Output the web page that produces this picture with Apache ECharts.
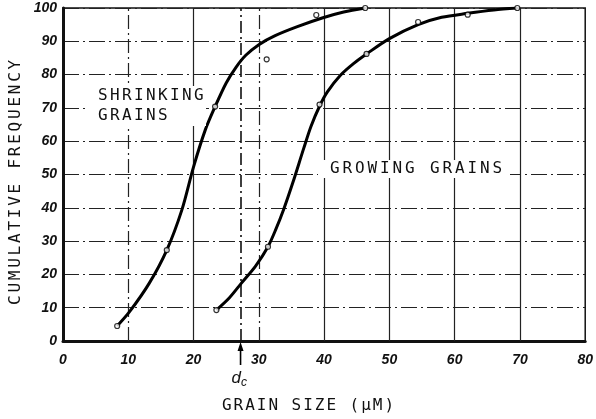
<!DOCTYPE html>
<html>
<head>
<meta charset="utf-8">
<script src="https://cdn.jsdelivr.net/npm/echarts@6/dist/echarts.min.js"></script>
<style>
  html, body { margin: 0; padding: 0; background: #fff; }
  #chart { width: 596px; height: 419px; }
</style>
</head>
<body>
<div id="chart"></div>
<script>
  // measured points (open circles)
  let shrinkX = [8.3, 15.9, 23.3, 31.2, 38.8, 46.3]
  let shrinkY = [4.5, 27.3, 70.4, 84.6, 97.9, 100]
  let growX = [23.5, 31.4, 39.3, 46.5, 54.4, 62, 69.6]
  let growY = [9.3, 28.3, 71, 86.2, 95.8, 98, 100]

  // hand drawn curves
  let shrinkCurveX = [8.3, 10.2, 13.2, 15.9, 18.2, 20, 21.8, 23.3, 25, 26.5, 28, 30, 32.5, 35.9, 39.7, 43, 46.3]
  let shrinkCurveY = [4.5, 8.8, 17.3, 27.3, 39.3, 52.3, 63.4, 70.4, 77.5, 82.2, 85.8, 89, 91.7, 94.4, 97, 98.8, 100]
  let growCurveX = [23.5, 25.5, 27.3, 29.5, 31.4, 32.6, 33.8, 35.2, 36.9, 38, 39.3, 40.5, 42.5, 44.5, 46.5, 50, 54.4, 58, 62, 66, 69.6]
  let growCurveY = [9.3, 13, 17.3, 22.5, 28.3, 33.5, 39.5, 47.5, 58, 64.5, 70.5, 74.8, 79.8, 83.3, 86.2, 90.8, 95, 97.2, 98.4, 99.4, 100]

  let xTicks = [0, 80, 10]
  let yTicks = [0, 100, 10]
  let solidX = [20, 40, 50, 60, 70]
  let dashedX = [10, 30]
  let dc = 27.2

  let zip = (xs, ys) => xs.map((x, i) => [x, ys[i]])

  let myChart = echarts.init(document.getElementById('chart'))

  let mono = 'DejaVu Sans Mono'
  let lettered = function (text, x, y, pitch, size, rotate) {
    let kids = []
    for (let i = 0; i < text.length; i++) {
      kids.push({
        type: 'text',
        x: i * pitch,
        y: 0,
        z: 100,
        style: {
          text: text[i],
          fontFamily: mono,
          fontSize: size,
          fill: '#111',
          align: 'left',
          verticalAlign: 'middle'
        }
      })
    }
    return { type: 'group', x: x, y: y, rotation: rotate || 0, children: kids }
  }

  let tickFont = {
    fontFamily: 'Liberation Sans',
    fontStyle: 'italic',
    fontWeight: 'bold',
    fontSize: 14,
    color: '#111'
  }

  let option = {
    animation: false,
    grid: {
      left: 63, right: 5, top: 8, bottom: 78,
      show: true, borderColor: '#111', borderWidth: 1.5
    },
    xAxis: {
      type: 'value',
      min: xTicks[0], max: xTicks[1], interval: xTicks[2],
      axisLine: { show: true, lineStyle: { color: '#111', width: 3 } },
      axisTick: { show: false },
      splitLine: { show: false },
      axisLabel: Object.assign({ margin: 12 }, tickFont)
    },
    yAxis: {
      type: 'value',
      min: yTicks[0], max: yTicks[1], interval: yTicks[2],
      axisLine: { show: true, lineStyle: { color: '#111', width: 3 } },
      axisTick: { show: false },
      splitLine: { show: true, lineStyle: { color: '#222', width: 1, type: [16, 4, 2, 4] } },
      axisLabel: Object.assign({ margin: 6 }, tickFont)
    },
    series: [
      {
        type: 'line',
        data: zip(shrinkCurveX, shrinkCurveY),
        smooth: 0.3,
        symbol: 'none',
        lineStyle: { color: '#000', width: 3 },
        markLine: {
          silent: true,
          symbol: 'none',
          label: { show: false },
          data: solidX.map(v => ({ xAxis: v, lineStyle: { color: '#222', width: 1.2, type: 'solid' } }))
            .concat(dashedX.map(v => ({ xAxis: v, lineStyle: { color: '#222', width: 1.2, type: [14, 4, 2, 4] } })))
            .concat([{ xAxis: dc, lineStyle: { color: '#111', width: 1.6, type: [12, 4, 2, 4] } }])
        },
        z: 5
      },
      {
        type: 'line',
        data: zip(growCurveX, growCurveY),
        smooth: 0.3,
        symbol: 'none',
        lineStyle: { color: '#000', width: 3 },
        z: 5
      },
      {
        type: 'scatter',
        data: zip(shrinkX, shrinkY),
        symbol: 'circle',
        symbolSize: 5,
        itemStyle: { color: '#fff', borderColor: '#000', borderWidth: 1.2 },
        z: 6
      },
      {
        type: 'scatter',
        data: zip(growX, growY),
        symbol: 'circle',
        symbolSize: 5,
        itemStyle: { color: '#fff', borderColor: '#000', borderWidth: 1.2 },
        z: 6
      }
    ]
  }
  myChart.setOption(option)

  let dcX = myChart.convertToPixel({ xAxisIndex: 0 }, dc)
  let axisY = myChart.convertToPixel({ yAxisIndex: 0 }, 0)

  myChart.setOption({
    graphic: [
      { type: 'rect', shape: { x: 88, y: 86, width: 118, height: 40 }, style: { fill: '#fff' }, z: 90 },
      { type: 'rect', shape: { x: 318, y: 160, width: 192, height: 18 }, style: { fill: '#fff' }, z: 90 },
      lettered('SHRINKING', 98, 96, 12, 16),
      lettered('GRAINS', 98, 116, 12, 16),
      lettered('GROWING GRAINS', 330, 169, 12.5, 16),
      lettered('GRAIN SIZE (\u03bcM)', 222, 406, 11.6, 16),
      lettered('CUMULATIVE FREQUENCY', 16, 305, 12.4, 16, Math.PI / 2),
      {
        type: 'line',
        shape: { x1: dcX, y1: axisY + 24, x2: dcX, y2: axisY + 6 },
        style: { stroke: '#000', lineWidth: 1.6 },
        z: 100
      },
      {
        type: 'polygon',
        shape: { points: [[dcX, axisY + 1], [dcX - 3, axisY + 10], [dcX + 3, axisY + 10]] },
        style: { fill: '#000' },
        z: 100
      },
      {
        type: 'text',
        x: dcX - 9,
        y: axisY + 37,
        z: 100,
        style: {
          text: '{d|d}{c|c}',
          verticalAlign: 'middle',
          rich: {
            d: { fontFamily: 'Liberation Sans', fontStyle: 'italic', fontSize: 17, fill: '#111' },
            c: { fontFamily: 'Liberation Sans', fontStyle: 'italic', fontSize: 12, fill: '#111', padding: [9, 0, 0, 0] }
          }
        }
      }
    ]
  })
</script>
</body>
</html>
